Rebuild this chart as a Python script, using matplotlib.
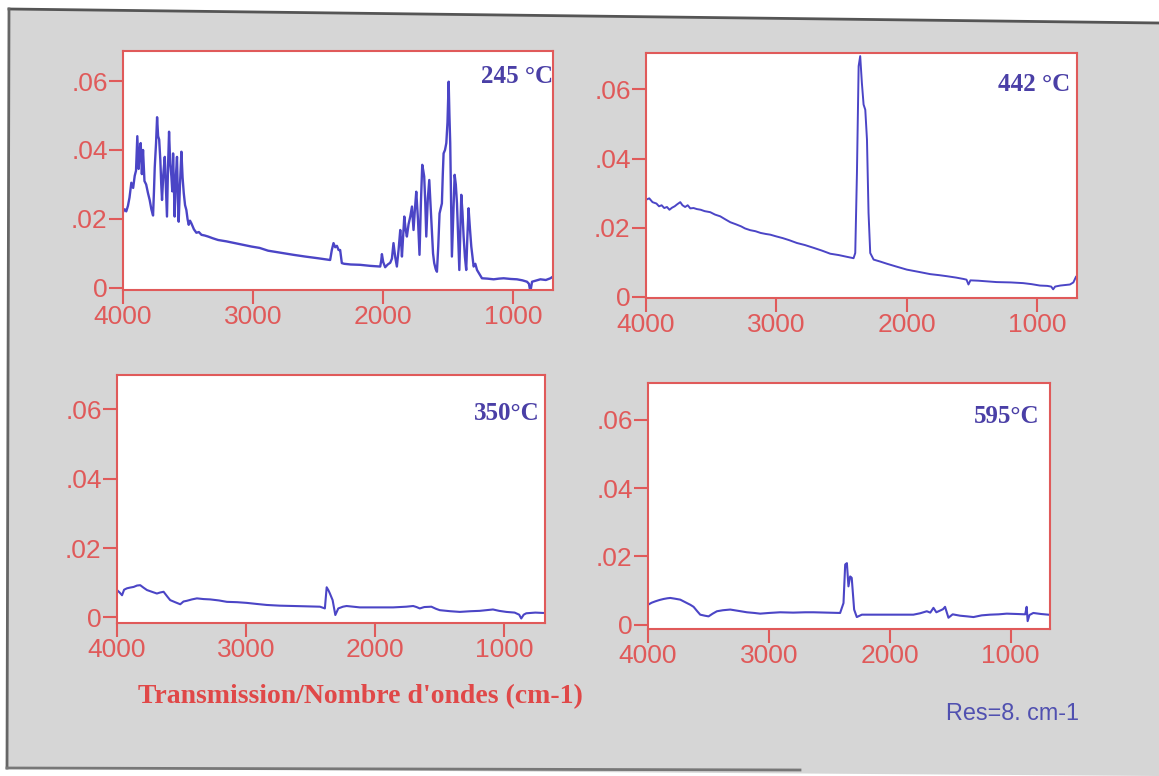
import numpy as np
import matplotlib
matplotlib.use("Agg")
import matplotlib.pyplot as plt
from matplotlib.patches import Polygon
from matplotlib.lines import Line2D
from matplotlib.ticker import FixedLocator, FuncFormatter

# spectra: (wavenumber cm-1, absorbance)
spec_245 = [(4000, .0220), (3987, .0228), (3975, .0222), (3962, .0238), (3950, .0262), (3936, .0305),
            (3922, .0290), (3910, .0325), (3900, .0340), (3890, .0440), (3880, .0345), (3872, .0400),
            (3864, .0420), (3855, .0330), (3846, .0400), (3835, .0310), (3822, .0300), (3808, .0275),
            (3795, .0255), (3782, .0228), (3769, .0210), (3762, .0280), (3756, .0350), (3746, .0420),
            (3738, .0495), (3730, .0440), (3722, .0430), (3713, .0370), (3706, .0300), (3700, .0255),
            (3690, .0330), (3679, .0380), (3670, .0290), (3662, .0207), (3654, .0350), (3646, .0453),
            (3637, .0360), (3628, .0323), (3621, .0280), (3615, .0390), (3609, .0300), (3603, .0207),
            (3594, .0320), (3585, .0380), (3578, .0260), (3572, .0192), (3562, .0300), (3551, .0395),
            (3542, .0320), (3533, .0275), (3523, .0240), (3513, .0226), (3504, .0200), (3495, .0183),
            (3485, .0195), (3474, .0187), (3455, .0170), (3436, .0160), (3417, .0162), (3397, .0154),
            (3372, .0152), (3346, .0149), (3310, .0144), (3269, .0139), (3205, .0135), (3141, .0130),
            (3077, .0125), (3013, .0120), (2950, .0116), (2885, .0108), (2790, .0102), (2690, .0096),
            (2600, .0091), (2500, .0086), (2408, .0081), (2395, .0110), (2382, .0130), (2369, .0118),
            (2356, .0122), (2343, .0110), (2331, .0110), (2318, .0072), (2300, .0070), (2250, .0068),
            (2177, .0067), (2100, .0064), (2023, .0062), (2015, .0080), (2010, .0098), (2000, .0075),
            (1985, .0060), (1965, .0068), (1946, .0073), (1933, .0085), (1921, .0130), (1908, .0090),
            (1895, .0062), (1882, .0110), (1869, .0168), (1862, .0130), (1856, .0091), (1847, .0150),
            (1838, .0207), (1828, .0170), (1818, .0149), (1805, .0185), (1792, .0207), (1779, .0236),
            (1773, .0200), (1767, .0168), (1756, .0230), (1746, .0279), (1733, .0200), (1721, .0096),
            (1710, .0250), (1700, .0357), (1692, .0340), (1685, .0323), (1677, .0250), (1669, .0149),
            (1657, .0260), (1646, .0313), (1635, .0230), (1625, .0149), (1617, .0100), (1608, .0072),
            (1597, .0055), (1587, .0047), (1577, .0120), (1567, .0216), (1558, .0230), (1549, .0245),
            (1542, .0330), (1536, .0390), (1525, .0400), (1515, .0420), (1506, .0480), (1497, .0598),
            (1491, .0500), (1485, .0420), (1478, .0250), (1472, .0091), (1462, .0200), (1451, .0328),
            (1442, .0300), (1433, .0245), (1424, .0150), (1415, .0052), (1408, .0150), (1400, .0270),
            (1391, .0220), (1382, .0149), (1372, .0090), (1362, .0052), (1353, .0150), (1344, .0231),
            (1333, .0170), (1323, .0120), (1314, .0090), (1305, .0062), (1292, .0070), (1279, .0052),
            (1260, .0040), (1241, .0028), (1200, .0027), (1151, .0025), (1110, .0027), (1074, .0028),
            (1020, .0026), (972, .0025), (930, .0022), (895, .0018), (880, .0012), (869, -.0011),
            (862, .0005), (856, .0018), (820, .0022), (792, .0025), (750, .0023), (715, .0028), (695, .0033)]

spec_442 = [(4000, .0281), (3975, .0285), (3950, .0274), (3920, .0270), (3900, .0262), (3880, .0265),
            (3860, .0257), (3839, .0260), (3820, .0252), (3800, .0258), (3780, .0262), (3760, .0268),
            (3737, .0274), (3720, .0265), (3700, .0260), (3680, .0265), (3660, .0256), (3635, .0257),
            (3610, .0254), (3580, .0252), (3550, .0248), (3507, .0245), (3470, .0238), (3430, .0233),
            (3390, .0224), (3353, .0216), (3310, .0210), (3270, .0204), (3240, .0198), (3200, .0193),
            (3160, .0190), (3120, .0185), (3080, .0182), (3046, .0180), (3000, .0175), (2950, .0170),
            (2900, .0164), (2842, .0156), (2780, .0150), (2714, .0142), (2650, .0134), (2586, .0125),
            (2520, .0121), (2458, .0116), (2407, .0112), (2394, .0127), (2381, .0358), (2368, .0667),
            (2356, .0696), (2343, .0618), (2330, .0556), (2317, .0541), (2304, .0455), (2292, .0243),
            (2279, .0127), (2253, .0108), (2200, .0102), (2151, .0096), (2080, .0088), (1998, .0079),
            (1900, .0072), (1819, .0066), (1750, .0063), (1691, .0060), (1620, .0056), (1563, .0052),
            (1540, .0050), (1525, .0036), (1510, .0048), (1450, .0047), (1380, .0045), (1309, .0043),
            (1200, .0042), (1105, .0040), (1040, .0037), (977, .0033), (920, .0032), (890, .0030),
            (875, .0022), (860, .0030), (820, .0033), (746, .0036), (720, .0042), (700, .0058)]

spec_350 = [(4000, .0079), (3980, .0072), (3961, .0064), (3945, .0080), (3923, .0084), (3900, .0086),
            (3871, .0088), (3845, .0092), (3820, .0093), (3795, .0086), (3768, .0079), (3730, .0074),
            (3691, .0069), (3665, .0072), (3639, .0074), (3610, .0060), (3588, .0050), (3550, .0044),
            (3510, .0038), (3485, .0046), (3459, .0048), (3420, .0052), (3381, .0055), (3330, .0053),
            (3278, .0052), (3210, .0049), (3149, .0045), (3070, .0044), (2995, .0042), (2920, .0039),
            (2840, .0036), (2740, .0034), (2634, .0033), (2530, .0032), (2428, .0031), (2390, .0026),
            (2376, .0087), (2362, .0078), (2351, .0069), (2330, .0050), (2309, .0007), (2286, .0026),
            (2250, .0031), (2222, .0033), (2119, .0029), (2000, .0029), (1861, .0029), (1760, .0031),
            (1706, .0033), (1680, .0030), (1655, .0026), (1620, .0030), (1565, .0031), (1530, .0025),
            (1500, .0021), (1420, .0018), (1345, .0016), (1260, .0018), (1191, .0019), (1088, .0023),
            (1040, .0019), (985, .0016), (920, .0014), (885, .0008), (869, -.0003), (850, .0008),
            (830, .0012), (760, .0014), (701, .0013)]

spec_595 = [(4000, .0058), (3995, .0059), (3970, .0064), (3940, .0068), (3905, .0072), (3871, .0075),
            (3840, .0077), (3816, .0078), (3780, .0076), (3733, .0073), (3700, .0067), (3678, .0063),
            (3650, .0058), (3623, .0052), (3595, .0040), (3568, .0029), (3530, .0026), (3499, .0024),
            (3465, .0032), (3430, .0039), (3380, .0042), (3320, .0044), (3250, .0040), (3182, .0036),
            (3120, .0034), (3072, .0032), (3000, .0034), (2907, .0036), (2800, .0035), (2700, .0036),
            (2631, .0036), (2520, .0035), (2411, .0034), (2383, .0063), (2369, .0176), (2355, .0180),
            (2342, .0112), (2328, .0141), (2315, .0137), (2295, .0044), (2273, .0022), (2231, .0029),
            (2100, .0029), (1950, .0029), (1805, .0029), (1750, .0033), (1694, .0039), (1665, .0035),
            (1639, .0049), (1615, .0036), (1590, .0040), (1560, .0045), (1543, .0052), (1515, .0020),
            (1480, .0030), (1419, .0026), (1360, .0024), (1308, .0022), (1240, .0027), (1171, .0029),
            (1100, .0030), (1033, .0032), (950, .0031), (880, .0030), (868, .0052), (860, .0010),
            (845, .0028), (813, .0034), (750, .0031), (689, .0029)]

labels = ["245 \u00b0C", "442 \u00b0C", "350\u00b0C", "595\u00b0C"]
x_ticks = [4000, 3000, 2000, 1000]
y_ticks = [0, 0.02, 0.04, 0.06]

RED = "#e05a5a"
BLUE = "#4b45c6"
TXT_BLUE = "#4a3fa6"
W, H = 1159, 776

fig = plt.figure(figsize=(W / 100, H / 100), dpi=100)
fig.patch.set_facecolor("white")

def px(x, y):
    return (x / W, 1 - y / H)

# grey card of the scan with its dark border
card = Polygon([px(9, 9), px(1159, 23), px(1159, 776), px(7, 768)], closed=True,
               transform=fig.transFigure, facecolor="#d6d6d6", edgecolor="none", zorder=-2)
fig.patches.append(card)
for a, b, c in [((9, 9), (1159, 23), "#555555"), ((9, 9), (7, 768), "#666666"),
                ((7, 768), (800, 770), "#777777")]:
    p0, p1 = px(*a), px(*b)
    fig.add_artist(Line2D([p0[0], p1[0]], [p0[1], p1[1]], transform=fig.transFigure,
                          color=c, lw=2, zorder=-1))

# pixel boxes (left, top, right, bottom), axis limits, label anchor, line width
panels = [
    (spec_245, (123, 51, 553, 290), (695, -0.0006, 0.0687), (1.0, 0.94), 1.7),
    (spec_442, (646, 53, 1077, 298), (692, -0.0003, 0.0705), (0.985, 0.92), 1.4),
    (spec_350, (117, 375, 545, 623), (685, -0.0016, 0.0699), (0.988, 0.89), 1.5),
    (spec_595, (648, 383, 1050, 629), (675, -0.0013, 0.0708), (0.975, 0.91), 1.5),
]

for (spec, box, lims, anchor, lw), lab in zip(panels, labels):
    l, t, r, b = box
    ax = fig.add_axes([l / W, 1 - b / H, (r - l) / W, (b - t) / H])
    ax.set_facecolor("white")
    wn, ab = np.array(spec).T
    ax.plot(wn, ab, color=BLUE, lw=lw)
    ax.set_xlim(4000, lims[0])
    ax.set_ylim(lims[1], lims[2])
    ax.xaxis.set_major_locator(FixedLocator(x_ticks))
    ax.yaxis.set_major_locator(FixedLocator(y_ticks))
    ax.yaxis.set_major_formatter(FuncFormatter(lambda v, p: "0" if v == 0 else ("%.2f" % v)[1:]))
    for s in ax.spines.values():
        s.set_color(RED)
        s.set_linewidth(1.5)
    ax.tick_params(colors=RED, labelcolor=RED, length=10, width=1.5, pad=1, labelsize=19)
    for tl in ax.get_xticklabels() + ax.get_yticklabels():
        tl.set_family("Liberation Sans")
    ax.text(anchor[0], anchor[1], lab, transform=ax.transAxes, ha="right", va="top",
            fontsize=18, fontweight="bold", family="Liberation Serif", color=TXT_BLUE)

fig.text(360 / W, 1 - 697 / H, "Transmission/Nombre d'ondes (cm-1)", ha="center", va="center",
         fontsize=20, fontweight="bold", family="Liberation Serif", color="#e04848")
fig.text(1012 / W, 1 - 714 / H, "Res=8. cm-1", ha="center", va="center",
         fontsize=16.8, family="Liberation Sans", color="#5050b0")

fig.savefig("out.png", dpi=100, facecolor=fig.get_facecolor())
